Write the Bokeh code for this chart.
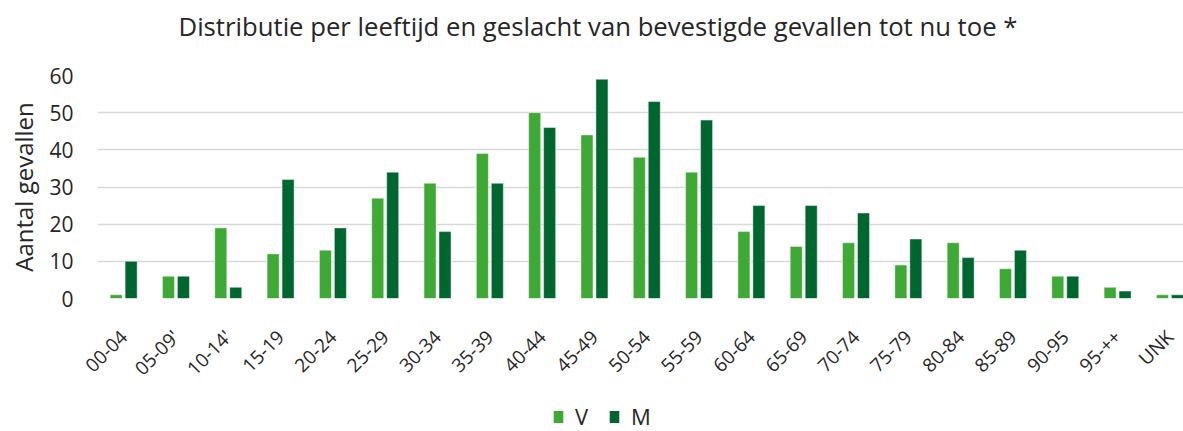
import math
from bokeh.plotting import figure
from bokeh.layouts import column
from bokeh.models import ColumnDataSource, Range1d, FixedTicker, Legend, LegendItem, Title
from bokeh.transform import dodge
from bokeh.embed import file_html
from bokeh.resources import INLINE

categories = ["00-04", "05-09'", "10-14'", "15-19", "20-24", "25-29", "30-34",
              "35-39", "40-44", "45-49", "50-54", "55-59", "60-64", "65-69",
              "70-74", "75-79", "80-84", "85-89", "90-95", "95-++", "UNK"]
v_values = [1, 6, 19, 12, 13, 27, 31, 39, 50, 44, 38, 34, 18, 14, 15, 9, 15, 8, 6, 3, 1]
m_values = [10, 6, 3, 32, 19, 34, 18, 31, 46, 59, 53, 48, 25, 25, 23, 16, 11, 13, 6, 2, 1]
y_ticks = [0, 10, 20, 30, 40, 50, 60]
series_labels = ["V", "M"]
title_text = "Distributie per leeftijd en geslacht van bevestigde gevallen tot nu toe *"

V_COLOR = "#3fa935"
M_COLOR = "#00662f"
TEXT = "#262626"
FONT = "Open Sans"

idx = list(range(len(categories)))
src = ColumnDataSource(dict(x=idx, v=v_values, m=m_values))

p = figure(width=1183, height=400, output_backend="svg", toolbar_location=None,
           x_range=Range1d(-0.5, 20.26), y_range=Range1d(0, 60),
           min_border_left=97, min_border_right=0, min_border_top=75,
           min_border_bottom=102)

p.title.visible = False
p.add_layout(Title(text=" ", text_font_size="13px"), "above")
p.add_layout(Title(text=title_text, text_font=FONT, text_font_size="25.7px",
                   text_font_style="normal", text_color=TEXT,
                   align="left", offset=81), "above")

p.outline_line_color = None
p.background_fill_color = "white"
p.border_fill_color = "white"

p.xgrid.grid_line_color = None
p.ygrid.grid_line_color = "#d9d9d9"
p.ygrid.grid_line_width = 1.5

p.xaxis.ticker = FixedTicker(ticks=idx)
p.xaxis.major_label_overrides = {i: c for i, c in enumerate(categories)}
p.xaxis.major_label_orientation = math.pi / 4
p.xaxis.major_label_text_font = FONT
p.xaxis.major_label_text_font_size = "19px"
p.xaxis.major_label_text_color = TEXT
p.xaxis.major_label_standoff = 35

p.yaxis.ticker = FixedTicker(ticks=y_ticks)
p.yaxis.major_label_text_font = FONT
p.yaxis.major_label_text_font_size = "21px"
p.yaxis.major_label_text_color = TEXT
p.yaxis.major_label_standoff = 24
p.yaxis.axis_label = "Aantal gevallen"
p.yaxis.axis_label_text_font = FONT
p.yaxis.axis_label_text_font_size = "24px"
p.yaxis.axis_label_text_font_style = "normal"
p.yaxis.axis_label_text_color = TEXT
p.yaxis.axis_label_standoff = 6

for ax in (p.xaxis, p.yaxis):
    ax.axis_line_color = None
    ax.major_tick_line_color = None
    ax.minor_tick_line_color = None
    ax.major_tick_in = 0
    ax.major_tick_out = 0

p.vbar(x=dodge("x", -0.143), top="v", width=0.23, source=src,
       fill_color=V_COLOR, line_color="white", line_alpha=0.45, line_width=1)
p.vbar(x=dodge("x", 0.143), top="m", width=0.23, source=src,
       fill_color=M_COLOR, line_color="white", line_alpha=0.45, line_width=1)

# legend strip below the chart (its swatch renderers lie outside its view)
p2 = figure(width=1183, height=31, output_backend="svg", toolbar_location=None,
            x_range=Range1d(-100, -99), y_range=Range1d(0, 1),
            x_axis_type=None, y_axis_type=None, min_border=0)
p2.outline_line_color = None
p2.grid.visible = False
sw_v = p2.vbar(x="x", top="v", width=0.23, source=src, fill_color=V_COLOR, line_color=None)
sw_m = p2.vbar(x="x", top="m", width=0.23, source=src, fill_color=M_COLOR, line_color=None)
legend = Legend(items=[LegendItem(label=series_labels[0], renderers=[sw_v]),
                       LegendItem(label=series_labels[1], renderers=[sw_m])],
                location=(455, 0), orientation="horizontal",
                glyph_width=12, glyph_height=15, label_standoff=11, spacing=13,
                padding=0, margin=0, border_line_color=None,
                background_fill_alpha=0,
                label_text_font=FONT, label_text_font_size="22px",
                label_text_color=TEXT)
p2.add_layout(legend)

open("out.html", "w").write(file_html(column(p, p2, spacing=0), INLINE))
